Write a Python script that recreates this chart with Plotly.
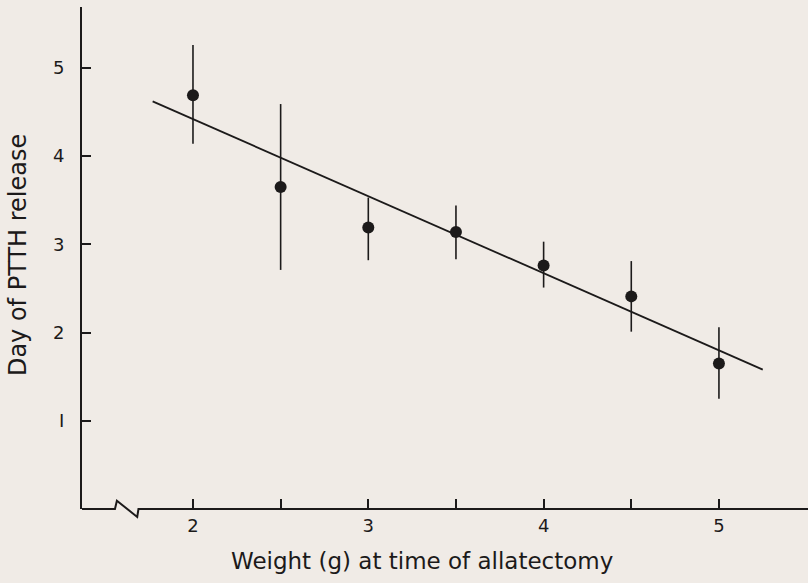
import plotly.graph_objects as go

# Data
weight = [2.0, 2.5, 3.0, 3.5, 4.0, 4.5, 5.0]
day_mean = [4.69, 3.65, 3.19, 3.14, 2.76, 2.41, 1.65]
err_upper = [5.26, 4.59, 3.53, 3.44, 3.03, 2.81, 2.06]
err_lower = [4.14, 2.71, 2.82, 2.83, 2.51, 2.01, 1.25]
fit_x = [1.77, 5.25]
fit_y = [4.62, 1.58]

x_ticks = [2, 2.5, 3, 3.5, 4, 4.5, 5]
x_ticklabels = ["2", "", "3", "", "4", "", "5"]
y_ticks = [1, 2, 3, 4, 5]
y_ticklabels = ["I", "2", "3", "4", "5"]

XR = [1.367, 5.508]
YR = [0.0, 5.69]

INK = "#1c1a1a"
BG = "#f0ebe6"
FONT = "DejaVu Sans"

plus = [u - m for u, m in zip(err_upper, day_mean)]
minus = [m - l for m, l in zip(day_mean, err_lower)]

fig = go.Figure()
fig.add_trace(go.Scatter(
    x=fit_x, y=fit_y, mode="lines",
    line=dict(color=INK, width=1.8), hoverinfo="skip", showlegend=False))
fig.add_trace(go.Scatter(
    x=weight, y=day_mean, mode="markers",
    marker=dict(color=INK, size=12),
    error_y=dict(type="data", symmetric=False, array=plus, arrayminus=minus,
                 width=0, thickness=1.6, color=INK),
    showlegend=False))


def px(x):
    return (x - XR[0]) / (XR[1] - XR[0])


def py(y):
    return (y - YR[0]) / (YR[1] - YR[0])


# x-axis line with a break mark
path = (f"M {px(1.367)},{py(0)} L {px(1.555)},{py(0)} L {px(1.566)},{py(0.094)} "
        f"L {px(1.682)},{py(-0.09)} L {px(1.689)},{py(0)} L {px(5.508)},{py(0)}")
fig.add_shape(type="path", xref="paper", yref="paper", path=path,
              line=dict(color=INK, width=2))

fig.add_annotation(xref="paper", yref="paper", x=-0.088, y=0.506,
                   xanchor="center", yanchor="middle",
                   text="Day of PTTH release", textangle=-90, showarrow=False,
                   font=dict(family=FONT, size=24, color=INK))
fig.add_annotation(xref="paper", yref="paper", x=0.468, y=-0.1036,
                   xanchor="center", yanchor="middle",
                   text="Weight (g) at time of allatectomy", showarrow=False,
                   font=dict(family=FONT, size=23, color=INK))

fig.update_layout(
    width=808, height=583,
    margin=dict(l=82, r=0, t=7, b=74),
    paper_bgcolor=BG, plot_bgcolor=BG,
    xaxis=dict(range=XR, showgrid=False, zeroline=False, showline=False,
               tickvals=x_ticks, ticktext=x_ticklabels, ticks="inside",
               ticklen=10, tickwidth=1.5, tickcolor=INK,
               tickfont=dict(family=FONT, size=18, color=INK),
               ticklabelstandoff=4),
    yaxis=dict(range=YR, showgrid=False, zeroline=False, showline=True,
               linecolor=INK, linewidth=2,
               tickvals=y_ticks, ticktext=y_ticklabels, ticks="inside",
               ticklen=9, tickwidth=1.5, tickcolor=INK,
               tickfont=dict(family=FONT, size=18, color=INK),
               ticklabelstandoff=12),
)

fig.write_html(
    "out.html",
    config={"displayModeBar": False},
    post_script="document.body.style.margin='0';document.body.style.background='%s';" % BG,
)
